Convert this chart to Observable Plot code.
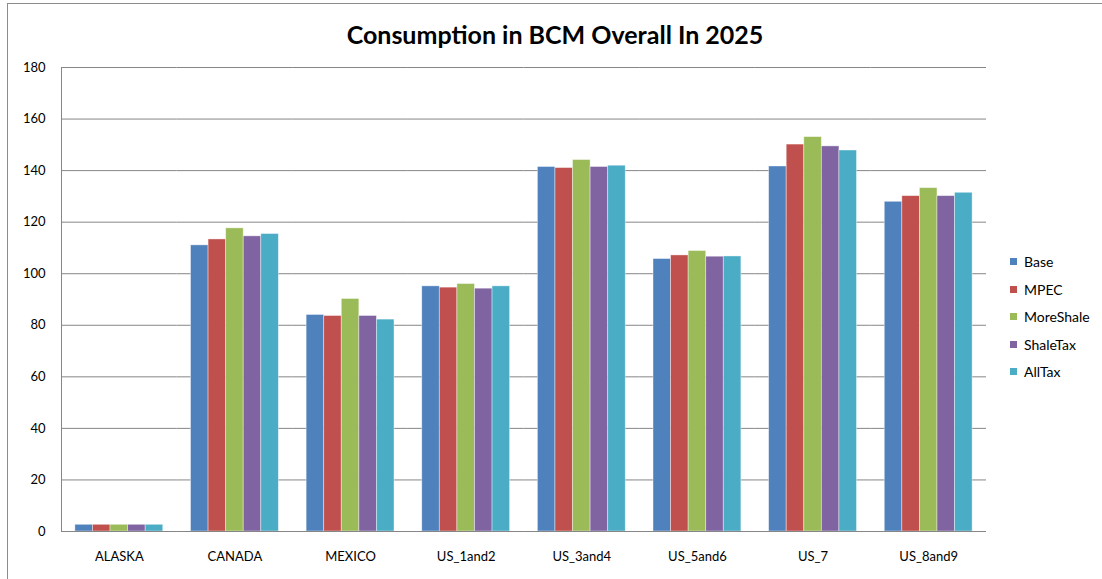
<!DOCTYPE html>
<html>
<head>
<meta charset="utf-8">
<script src="https://cdn.jsdelivr.net/npm/d3@7"></script>
<script src="https://cdn.jsdelivr.net/npm/@observablehq/plot@0.6"></script>
<style>
  html, body { margin: 0; padding: 0; background: #fff; }
  body { width: 1102px; height: 579px; overflow: hidden; position: relative; font-family: Lato, "Open Sans", sans-serif; }
  #border { position: absolute; left: 7px; top: 3px; width: 1200px; height: 700px; border: 1px solid #8c8c8c; box-sizing: border-box; }
  #title { position: absolute; left: 0; top: 19px; width: 1110px; text-align: center; font: bold 25px Lato, sans-serif; line-height: 30px; color: #000; }
  #chart { position: absolute; left: 0; top: 60px; }
  #legend { position: absolute; left: 1010px; top: 248px; font: 14px Lato, sans-serif; color: #000; }
  .row { height: 27.5px; display: flex; align-items: center; }
  .sw { width: 7px; height: 7px; margin-right: 7px; }
</style>
</head>
<body>
<div id="border"></div>
<div id="title">Consumption in BCM Overall In 2025</div>
<div id="chart"></div>
<div id="legend"></div>
<script>
const categories = ["ALASKA", "CANADA", "MEXICO", "US_1and2", "US_3and4", "US_5and6", "US_7", "US_8and9"];
const series = ["Base", "MPEC", "MoreShale", "ShaleTax", "AllTax"];
const colors = ["#4F81BD", "#C0504D", "#9BBB59", "#8064A2", "#4BACC6"];
const base      = [2.6, 111.0, 84.0, 95.1, 141.4, 105.7, 141.6, 127.9];
const mpec      = [2.6, 113.3, 83.6, 94.6, 141.0, 107.1, 150.1, 130.1];
const moreShale = [2.6, 117.6, 90.2, 96.0, 144.1, 108.8, 153.0, 133.2];
const shaleTax  = [2.6, 114.5, 83.6, 94.2, 141.4, 106.6, 149.4, 130.1];
const allTax    = [2.6, 115.4, 82.2, 95.1, 141.9, 106.7, 147.8, 131.4];
const yTicks = [0, 20, 40, 60, 80, 100, 120, 140, 160, 180];

const valuesBySeries = [base, mpec, moreShale, shaleTax, allTax];
const data = [];
categories.forEach((c, i) => {
  series.forEach((s, j) => data.push({category: c, series: s, value: valuesBySeries[j][i]}));
});

const chart = Plot.plot({
  width: 1102,
  height: 519,
  marginLeft: 61,
  marginRight: 116,
  marginTop: 7,
  marginBottom: 48,
  style: {fontFamily: "Lato, sans-serif", fontSize: "13px", color: "#000", background: "transparent"},
  fx: {domain: categories, padding: 0, round: false, label: null},
  x: {domain: series, paddingInner: 0, paddingOuter: 0.79, round: false, axis: null},
  y: {domain: [0, 180], label: null},
  color: {domain: series, range: colors},
  marks: [
    Plot.gridY(yTicks, {stroke: "#868686", strokeOpacity: 1, strokeWidth: 1}),
    Plot.axisY(yTicks, {tickSize: 0, tickPadding: 16, fontSize: 13, label: null}),
    Plot.axisFx({anchor: "bottom", tickSize: 0, tickPadding: 20, fontSize: 13, label: null}),
    Plot.barY(data, {fx: "category", x: "series", y: "value", fill: "series", stroke: "#ffffff", strokeOpacity: 0.5, strokeWidth: 0.8}),
    Plot.ruleY([0], {stroke: "#868686", strokeWidth: 1}),
    Plot.frame({anchor: "left", facetAnchor: "left", stroke: "#868686", strokeWidth: 1})
  ]
});
document.getElementById("chart").appendChild(chart);

const legend = d3.select("#legend");
series.forEach((s, j) => {
  const row = legend.append("div").attr("class", "row");
  row.append("div").attr("class", "sw").style("background", colors[j]);
  row.append("span").text(s);
});
</script>
</body>
</html>
